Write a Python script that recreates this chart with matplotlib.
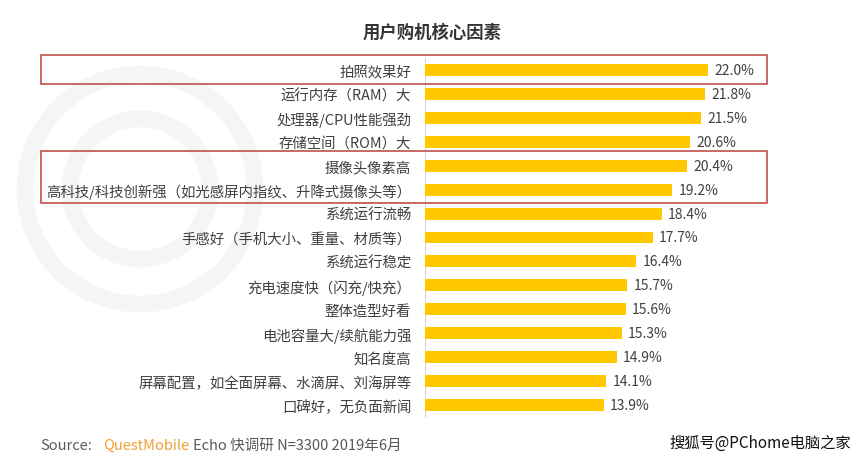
import matplotlib.pyplot as plt
from matplotlib.patches import Rectangle, Circle
import matplotlib.transforms as mtransforms

plt.rcParams['font.family'] = ['Noto Sans CJK SC', 'DejaVu Sans']

### data
factors = ['拍照效果好', '运行内存（RAM）大', '处理器/CPU性能强劲', '存储空间（ROM）大',
           '摄像头像素高', '高科技/科技创新强（如光感屏内指纹、升降式摄像头等）',
           '系统运行流畅', '手感好（手机大小、重量、材质等）', '系统运行稳定',
           '充电速度快（闪充/快充）', '整体造型好看', '电池容量大/续航能力强',
           '知名度高', '屏幕配置，如全面屏幕、水滴屏、刘海屏等', '口碑好，无负面新闻']
shares = [22.0, 21.8, 21.5, 20.6, 20.4, 19.2, 18.4, 17.7, 16.4, 15.7, 15.6, 15.3, 14.9, 14.1, 13.9]
highlight_groups = [[0], [4, 5]]

fig = plt.figure(figsize=(8.64, 4.64), dpi=100)

# faint watermark logo rings in a background axes
bg = fig.add_axes([0, 0, 1, 1], zorder=-1)
bg.set_xlim(0, 864)
bg.set_ylim(464, 0)
bg.axis('off')
bg.add_patch(Circle((140, 190), 115, fill=False, edgecolor='#f5f5f5', linewidth=12))
bg.add_patch(Circle((140, 190), 70, fill=False, edgecolor='#f5f5f5', linewidth=12))

ax = fig.add_axes([0.492, 0.099, 0.476, 0.774])
y = list(range(len(factors)))
ax.barh(y, shares, height=0.5, color='#FFC800', zorder=3)
for yi, v in zip(y, shares):
    ax.text(v + 0.5, yi, f'{v:.1f}%', va='center', ha='left', fontsize=10, color='#404040')

ax.set_ylim(len(factors) - 0.5, -0.5)
ax.set_xlim(0, 32)
ax.set_yticks(y)
ax.set_yticklabels(factors, fontsize=10.4, color='#404040')
ax.tick_params(axis='y', length=0, pad=10)
ax.set_xticks([])
for s in ['top', 'right', 'bottom']:
    ax.spines[s].set_visible(False)
ax.spines['left'].set_color('#d9d9d9')
ax.patch.set_alpha(0)

# red highlight boxes: x in figure coords, y in data coords
trans = mtransforms.blended_transform_factory(fig.transFigure, ax.transData)
for grp in highlight_groups:
    top = min(grp) - 0.62
    bottom = max(grp) + 0.58
    rect = Rectangle((0.047, top), 0.841, bottom - top, transform=trans, fill=False,
                     edgecolor='#c0504d', linewidth=1.2, clip_on=False, zorder=5)
    fig.patches.append(rect)

fig.text(0.5, 0.93, '用户购机核心因素', ha='center', va='center', fontsize=12.5,
         fontweight='bold', color='#333333')

# source line, pieces chained one after another
t1 = fig.text(0.047, 0.03, 'Source:', fontsize=10.5, color='#595959', va='baseline')
t2 = fig.add_artist(plt.Annotation('QuestMobile', xy=(1, 0), xycoords=t1, xytext=(8, 0),
                                   textcoords='offset points', fontsize=10.5, color='#F0A030',
                                   va='bottom'))
fig.add_artist(plt.Annotation('Echo 快调研 N=3300 2019年6月', xy=(1, 0), xycoords=t2,
                              xytext=(2, 0), textcoords='offset points', fontsize=10.5,
                              color='#595959', va='bottom'))
fig.text(0.985, 0.045, '搜狐号@PChome电脑之家', fontsize=11, color='#111111', va='center', ha='right')

fig.savefig('out.png', dpi=100, facecolor='white')
